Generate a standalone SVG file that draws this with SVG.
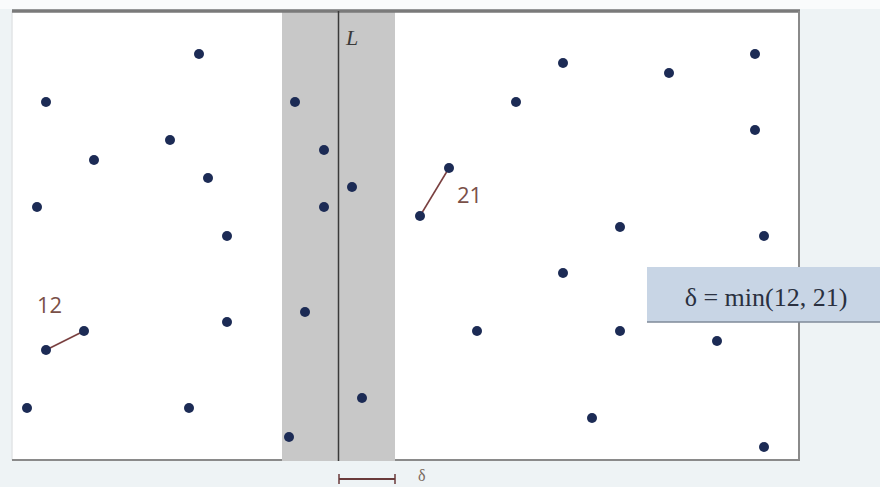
<svg xmlns="http://www.w3.org/2000/svg" width="880" height="487" viewBox="0 0 880 487">
  <style>
    .pt { fill: #1c2b55; }
    .pair { stroke: #7a4040; stroke-width: 1.6; fill: none; }
    .lbl { font-family: "Open Sans", "Liberation Sans", sans-serif; font-size: 22px; fill: #7a5048; }
    .box { font-family: "Liberation Serif", "DejaVu Serif", serif; font-size: 26px; fill: #2a3040; }
  </style>
  <rect x="0" y="0" width="880" height="487" fill="#eef3f5"/>
  <rect x="0" y="0" width="880" height="9" fill="#fafbfc"/>
  <g id="plane">
    <rect x="12" y="11" width="787" height="449" fill="#ffffff"/>
    <rect x="282" y="11" width="113" height="450" fill="#c8c8c8"/>
    <line x1="12" y1="11" x2="12" y2="460" stroke="#e2e4e6" stroke-width="1.5"/>
    <line x1="12" y1="11" x2="800" y2="11" stroke="#7a7a7a" stroke-width="3.5"/>
    <line x1="799" y1="11" x2="799" y2="461" stroke="#8a8a8a" stroke-width="2"/>
    <line x1="12" y1="460" x2="282" y2="460" stroke="#8a8a8a" stroke-width="2"/>
    <line x1="395" y1="460" x2="800" y2="460" stroke="#8a8a8a" stroke-width="2"/>
  </g>
  <g id="line-L">
    <line x1="338.5" y1="11" x2="338.5" y2="461" stroke="#3a3a3a" stroke-width="1.5"/>
    <text x="346" y="45" font-family="Liberation Serif, serif" font-style="italic" font-size="22" fill="#3a3a3a">L</text>
  </g>
  <g id="connectors">
    <line class="pair" x1="46" y1="350" x2="84" y2="331"/>
    <line class="pair" x1="420" y1="216" x2="449" y2="168"/>
  </g>
  <g id="labels">
    <text class="lbl" x="37" y="313">12</text>
    <text class="lbl" x="457" y="203">21</text>
  </g>
  <g id="points">
    <circle class="pt" cx="199" cy="54" r="5"/>
    <circle class="pt" cx="46" cy="102" r="5"/>
    <circle class="pt" cx="94" cy="160" r="5"/>
    <circle class="pt" cx="170" cy="140" r="5"/>
    <circle class="pt" cx="208" cy="178" r="5"/>
    <circle class="pt" cx="37" cy="207" r="5"/>
    <circle class="pt" cx="227" cy="236" r="5"/>
    <circle class="pt" cx="227" cy="322" r="5"/>
    <circle class="pt" cx="27" cy="408" r="5"/>
    <circle class="pt" cx="189" cy="408" r="5"/>
    <circle class="pt" cx="46" cy="350" r="5"/>
    <circle class="pt" cx="84" cy="331" r="5"/>
    <circle class="pt" cx="295" cy="102" r="5"/>
    <circle class="pt" cx="324" cy="150" r="5"/>
    <circle class="pt" cx="324" cy="207" r="5"/>
    <circle class="pt" cx="352" cy="187" r="5"/>
    <circle class="pt" cx="305" cy="312" r="5"/>
    <circle class="pt" cx="289" cy="437" r="5"/>
    <circle class="pt" cx="362" cy="398" r="5"/>
    <circle class="pt" cx="420" cy="216" r="5"/>
    <circle class="pt" cx="449" cy="168" r="5"/>
    <circle class="pt" cx="563" cy="63" r="5"/>
    <circle class="pt" cx="669" cy="73" r="5"/>
    <circle class="pt" cx="755" cy="54" r="5"/>
    <circle class="pt" cx="516" cy="102" r="5"/>
    <circle class="pt" cx="755" cy="130" r="5"/>
    <circle class="pt" cx="620" cy="227" r="5"/>
    <circle class="pt" cx="764" cy="236" r="5"/>
    <circle class="pt" cx="563" cy="273" r="5"/>
    <circle class="pt" cx="477" cy="331" r="5"/>
    <circle class="pt" cx="620" cy="331" r="5"/>
    <circle class="pt" cx="717" cy="341" r="5"/>
    <circle class="pt" cx="592" cy="418" r="5"/>
    <circle class="pt" cx="764" cy="447" r="5"/>
  </g>
  <g id="delta-box">
    <rect x="647" y="267" width="233" height="55" fill="#c8d5e5"/>
    <line x1="647" y1="322" x2="880" y2="322" stroke="#7f8a98" stroke-width="1.5"/>
    <text class="box" x="766" y="306" text-anchor="middle">δ = min(12, 21)</text>
  </g>
  <g id="delta-width">
    <line x1="339" y1="479" x2="395" y2="479" stroke="#6a3a3a" stroke-width="2"/>
    <line x1="339" y1="474" x2="339" y2="484" stroke="#6a3a3a" stroke-width="1.5"/>
    <line x1="395" y1="474" x2="395" y2="484" stroke="#6a3a3a" stroke-width="1.5"/>
    <text x="418" y="481" font-family="Liberation Serif, serif" font-size="16" fill="#7a6a60">δ</text>
  </g>
</svg>
